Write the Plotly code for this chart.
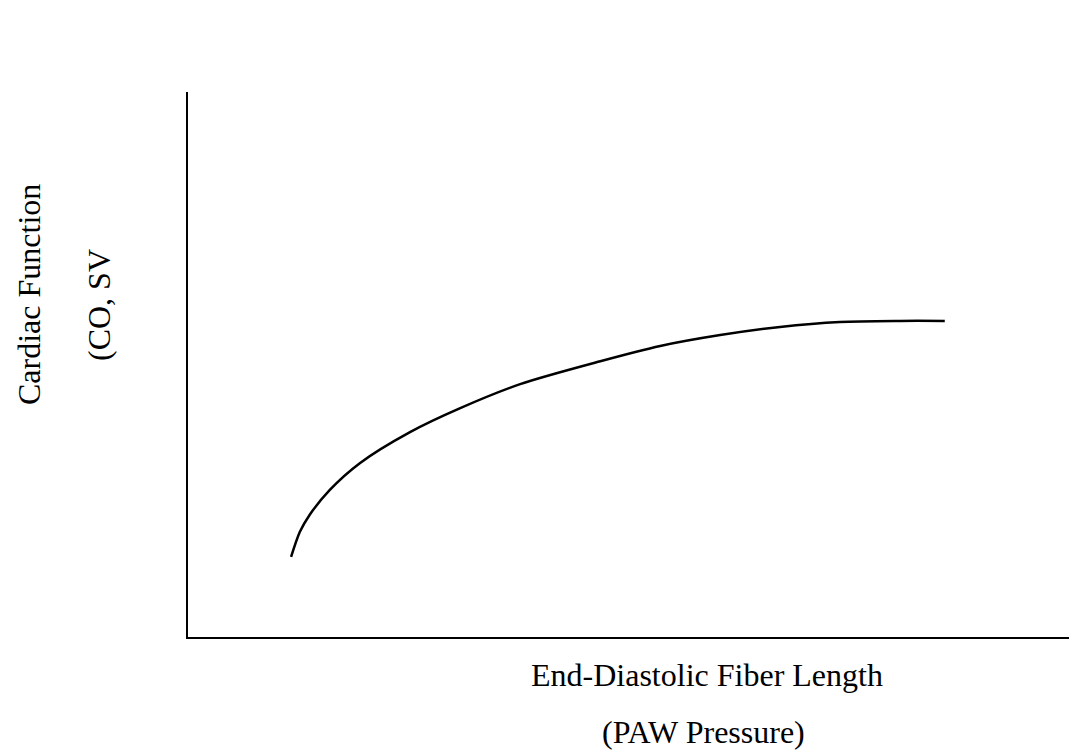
import plotly.graph_objects as go

# Curve (arbitrary units, axes 0-100)
fiber_length = [11.7, 12.7, 13.8, 16.1, 19.5, 25.2, 30.9, 37.7, 46.8, 53.6, 60.4, 67.2, 74.0, 80.8, 85.9]
cardiac_function = [14.7, 19.3, 22.4, 27.0, 31.9, 37.6, 42.0, 46.4, 50.6, 53.4, 55.4, 56.9, 57.8, 58.0, 58.0]

x_label_1 = "End-Diastolic Fiber Length"
x_label_2 = "(PAW Pressure)"
y_label_1 = "Cardiac Function"
y_label_2 = "(CO, SV"

FONT = "Liberation Serif, Times New Roman, serif"
L, T, W, H = 188, 92, 881, 545


def px(x):
    return (x - L) / W


def py(y):
    return (T + H - y) / H


fig = go.Figure()
fig.add_trace(go.Scatter(
    x=fiber_length, y=cardiac_function, mode="lines",
    line=dict(color="black", width=2.5, shape="spline", smoothing=0.8),
    hoverinfo="skip", showlegend=False,
))

fig.update_layout(
    width=1069, height=752,
    margin=dict(l=L, r=1069 - L - W, t=T, b=752 - T - H),
    paper_bgcolor="white", plot_bgcolor="white",
    font=dict(family=FONT, color="black", size=32),
    xaxis=dict(range=[0, 100], showgrid=False, zeroline=False, showticklabels=False,
               ticks="", showline=True, linecolor="black", linewidth=2, fixedrange=True),
    yaxis=dict(range=[0, 100], showgrid=False, zeroline=False, showticklabels=False,
               ticks="", showline=True, linecolor="black", linewidth=2, fixedrange=True),
    annotations=[
        dict(text=x_label_1, xref="paper", yref="paper", x=px(707), y=py(675),
             showarrow=False, xanchor="center", yanchor="middle"),
        dict(text=x_label_2, xref="paper", yref="paper", x=px(703), y=py(732),
             showarrow=False, xanchor="center", yanchor="middle"),
        dict(text=y_label_1, xref="paper", yref="paper", x=px(29), y=py(295),
             showarrow=False, xanchor="center", yanchor="middle", textangle=-90),
        dict(text=y_label_2, xref="paper", yref="paper", x=px(99), y=py(305),
             showarrow=False, xanchor="center", yanchor="middle", textangle=-90),
    ],
)

fig.write_html("out.html", config={"displayModeBar": False},
               post_script="document.body.style.margin='0';document.body.style.overflow='hidden';")
